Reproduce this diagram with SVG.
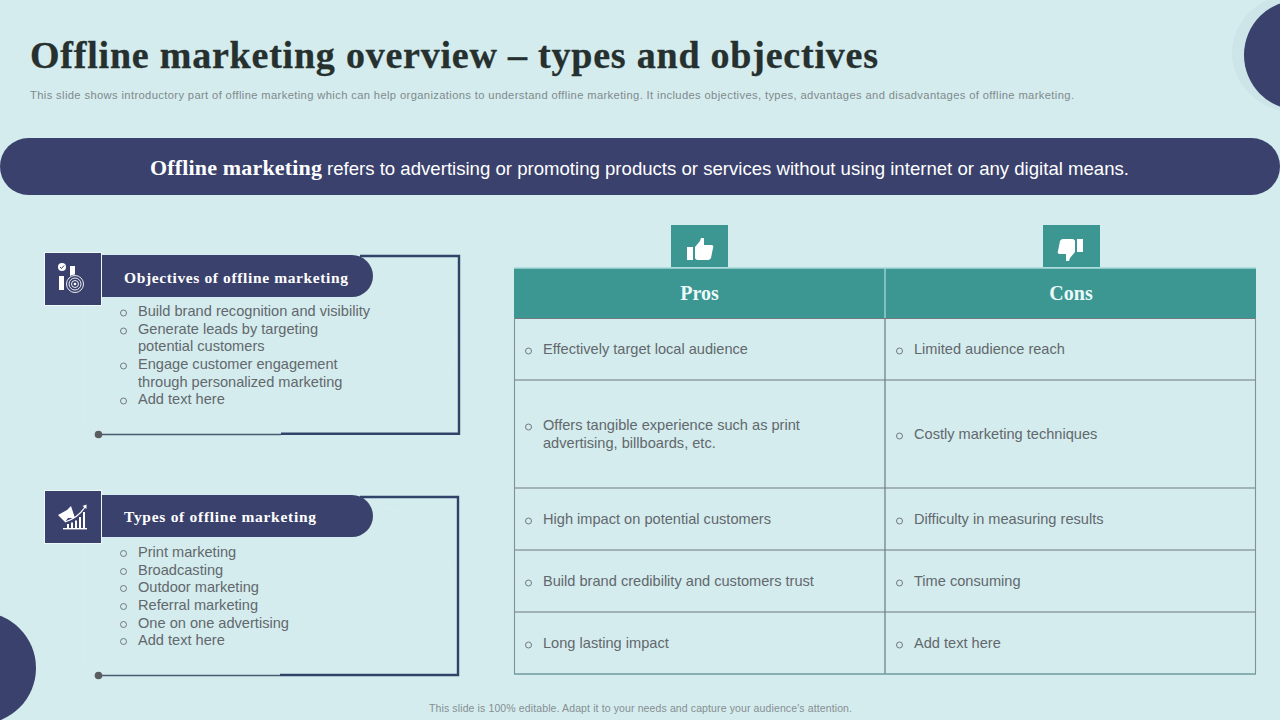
<svg xmlns="http://www.w3.org/2000/svg" width="1280" height="720" viewBox="0 0 1280 720">
<style>
.s{font-family:"Liberation Serif","DejaVu Serif",serif;font-weight:700}
.a{font-family:"Liberation Sans",Arial,sans-serif}
.b{font-size:14.6px;fill:#62686c}
.c{font-size:14.6px;fill:#62686c}
.h{font-size:20px;fill:#ecfafa;text-anchor:middle}
.l{stroke:#6f7b7e;stroke-width:1.200;fill:none}
.n{fill:#3a416c}
.f{stroke:#2f4468;stroke-width:2.400;fill:none}
.w{fill:#fff}
.o{fill:none;stroke:#666c70;stroke-width:.9}
.g{fill:none;stroke:#d9eeef;stroke-width:1}
</style>
<rect width="1280" height="720" fill="#d4ecee"/>
<g id="decor">
<ellipse cx="1298" cy="53" rx="66" ry="60" fill="#cde5e9"/>
<circle cx="1299" cy="55" r="55" class="n"/>
<circle cx="-20" cy="668" r="56" class="n"/>
</g>
<text class="s" x="30" y="67.500" font-size="38" fill="#26302f" stroke="#26302f" stroke-width=".3" textLength="848">Offline marketing overview – types and objectives</text>
<text class="a" x="30" y="99" font-size="11.200" fill="#7f8a8c" textLength="1044">This slide shows introductory part of offline marketing which can help organizations to understand offline marketing. It includes objectives, types, advantages and disadvantages of offline marketing.</text>
<g id="banner">
<rect x="0" y="138" width="1280" height="57" rx="28.500" class="n"/>
<text x="150" y="175" class="s" font-size="22" fill="#fff" textLength="172">Offline marketing</text>
<text x="327" y="175" class="a" font-size="18.600" fill="#fff" textLength="802">refers to advertising or promoting products or services without using internet or any digital means.</text>
</g>
<g id="connectors">
<path class="g" d="M84 305V422M360 258Q450 280 455 345Q450 415 380 433M360 499Q450 520 453 585Q450 655 380 673M84 545V662"/>
<circle cx="82" cy="422" r="3" class="g"/>
<circle cx="82" cy="662" r="3" class="g"/>
<path class="f" d="M281 433.800H459V256H360"/>
<path d="M99 434.500H281" stroke="#4a5a70" stroke-width="1.400" fill="none"/>
<circle cx="98.500" cy="434.500" r="3.800" fill="#5a5c60"/>
<path class="f" d="M280 675H458V497H360"/>
<path d="M99 675.500H280" stroke="#4a5a70" stroke-width="1.400" fill="none"/>
<circle cx="98.500" cy="675.500" r="3.800" fill="#5a5c60"/>
</g>
<g id="objectives">
<rect x="44.500" y="252.500" width="57" height="53" class="n" stroke="#eef8f8"/>
<rect x="59" y="276" width="5" height="14" class="w"/><rect x="70" y="266" width="5" height="24" class="w"/>
<circle cx="62" cy="267" r="4" class="w"/>
<path d="M60 267l1.500 1.500 2.500-3" fill="none" stroke="#3a416c" stroke-width="1"/>
<circle cx="75" cy="284" r="9.500" class="n"/>
<circle cx="75" cy="284" r="8.500" fill="none" stroke="#fff" stroke-width=".9"/><circle cx="75" cy="284" r="6" fill="none" stroke="#fff" stroke-width=".9"/><circle cx="75" cy="284" r="3.500" fill="none" stroke="#fff" stroke-width=".9"/><circle cx="75" cy="284" r="1.300" class="w"/>
<path d="M352 255a21 21 0 0 1 0 42H102V255Z" class="n"/>
<text class="s" x="124" y="283" font-size="15.500" fill="#fff" textLength="224">Objectives of offline marketing</text>
<g class="a b">
<text x="138" y="316">Build brand recognition and visibility</text>
<text x="138" y="334">Generate leads by targeting</text>
<text x="138" y="351">potential customers</text>
<text x="138" y="369">Engage customer engagement</text>
<text x="138" y="387">through personalized marketing</text>
<text x="138" y="404">Add text here</text>
</g>
<g class="o"><circle cx="123.500" cy="313" r="3"/><circle cx="123.500" cy="331" r="3"/><circle cx="123.500" cy="366" r="3"/><circle cx="123.500" cy="401" r="3"/></g>
</g>
<g id="types">
<rect x="44.500" y="490.500" width="57" height="53" class="n" stroke="#eef8f8"/>
<path d="M58 515L67 510L71 506L75 518L68 518L65 522L63 520Z" class="w"/>
<path d="M65 522Q78 518 85 507" fill="none" stroke="#fff" stroke-width="1.200"/>
<path d="M82.500 506L86.500 504.500L86.500 509Z" class="w"/>
<path d="M67 524h2v4h-2zM71 522.500h2v5.500h-2zM75 520.500h2v7.500h-2zM79 517h2v11h-2zM83 512h2v16h-2z" class="w"/>
<rect x="63" y="528" width="24" height="1.400" class="w"/>
<path d="M352 495a21 21 0 0 1 0 42H102V495Z" class="n"/>
<text class="s" x="124" y="522" font-size="15.500" fill="#fff" textLength="192">Types of offline marketing</text>
<g class="a b">
<text x="138" y="557">Print marketing</text>
<text x="138" y="575">Broadcasting</text>
<text x="138" y="592">Outdoor marketing</text>
<text x="138" y="610">Referral marketing</text>
<text x="138" y="628">One on one advertising</text>
<text x="138" y="645">Add text here</text>
</g>
<g class="o"><circle cx="123.500" cy="553.500" r="3"/><circle cx="123.500" cy="571.500" r="3"/><circle cx="123.500" cy="588.500" r="3"/><circle cx="123.500" cy="606.500" r="3"/><circle cx="123.500" cy="624.500" r="3"/><circle cx="123.500" cy="641.500" r="3"/></g>
</g>
<g id="table">
<rect x="514" y="268" width="742" height="50" fill="#3c9792"/>
<path d="M885 268V318" stroke="#a6d8d8" stroke-width="1.300"/>
<path d="M514 268H1256" stroke="#a6d8d8" stroke-width="1.300"/>
<text class="s h" x="699.500" y="300">Pros</text>
<text class="s h" x="1071" y="300">Cons</text>
<path class="l" d="M514 318.500H1256M514 380H1256M514 488H1256M514 550H1256M514 612H1256M885 318V674"/>
<path d="M514.500 318V674M1255.500 318V674" stroke="#7f9295" stroke-width="1.100"/>
<path d="M514 674H1256" stroke="#6f9c9e" stroke-width="1.600"/>
<g class="a c">
<text x="543" y="354">Effectively target local audience</text>
<text x="543" y="430">Offers tangible experience such as print</text>
<text x="543" y="448">advertising, billboards, etc.</text>
<text x="543" y="524">High impact on potential customers</text>
<text x="543" y="586">Build brand credibility and customers trust</text>
<text x="543" y="648">Long lasting impact</text>
<text x="914" y="354">Limited audience reach</text>
<text x="914" y="439">Costly marketing techniques</text>
<text x="914" y="524">Difficulty in measuring results</text>
<text x="914" y="586">Time consuming</text>
<text x="914" y="648">Add text here</text>
</g>
<g class="o"><circle cx="528.500" cy="351" r="3"/><circle cx="528.500" cy="427" r="3"/><circle cx="528.500" cy="521" r="3"/><circle cx="528.500" cy="583" r="3"/><circle cx="528.500" cy="645" r="3"/><circle cx="899.500" cy="351" r="3"/><circle cx="899.500" cy="436" r="3"/><circle cx="899.500" cy="521" r="3"/><circle cx="899.500" cy="583" r="3"/><circle cx="899.500" cy="645" r="3"/></g>
</g>
<g id="pros-icon">
<rect x="671" y="225" width="57" height="42" fill="#3c9792"/>
<path d="M687 247h6v13h-6zM695 247l5-6 1-3 3 0 0 7h8q2 1 1 3l-2 10q-1 2-3 2h-11q-2-1-2-2z" class="w"/>
</g>
<g id="cons-icon">
<rect x="1043" y="225" width="57" height="42" fill="#3c9792"/>
<path d="M1077 239h6v13h-6zM1075 252l-5 6-1 3-3 0 0-7h-7q-2-1-1-3l2-10q1-2 3-2h10q2 1 2 2z" class="w"/>
</g>
<text class="a" x="429" y="712" font-size="10.500" fill="#868f91" textLength="423">This slide is 100% editable. Adapt it to your needs and capture your audience's attention.</text>
</svg>
